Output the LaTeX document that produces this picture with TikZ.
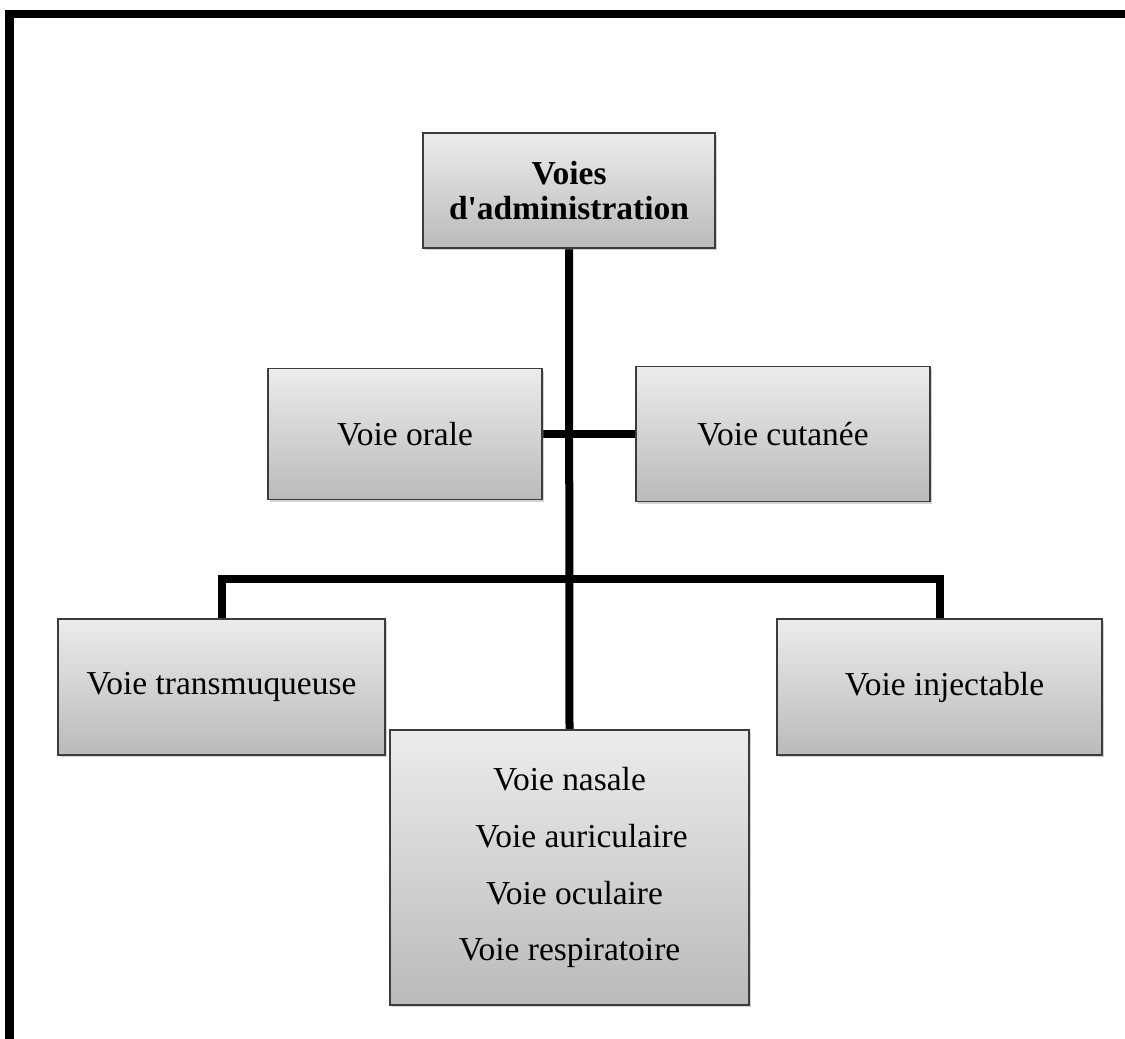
\documentclass[tikz,border=0pt]{standalone}
\usepackage{fontspec}
\setmainfont{Liberation Serif}
\usepackage{tikz}
\usetikzlibrary{shadows, backgrounds, positioning}
\definecolor{voieTop}{RGB}{236,236,236}
\definecolor{voieBottom}{RGB}{186,186,186}
\definecolor{voieEdge}{RGB}{60,60,60}

\begin{document}
\begin{tikzpicture}[x=0.025cm, y=-0.025cm,
    voie/.style={draw=voieEdge, line width=0.9pt, top color=voieTop, bottom color=voieBottom,
        inner sep=0pt, align=center, font=\fontsize{23.8}{24.9}\selectfont,
        drop shadow={opacity=0.35, shadow xshift=0.5mm, shadow yshift=-0.6mm}},
    lien/.style={line width=0.2cm}]
    \useasboundingbox (0,0) rectangle (1125,1039);
    % frame: left and top edges only
    \draw[line width=0.2cm] (9.5,1039) -- (9.5,14) -- (1125,14);
    % boxes, pixel positions of the centres
    \node[voie, minimum width=7.3cm, minimum height=2.875cm, font=\fontsize{23.8}{24.9}\selectfont\bfseries]
        (admin) at (569,190.5) {Voies\\d\textquotesingle administration};
    \node[voie, minimum width=6.85cm, minimum height=3.275cm] (orale) at (405,434) {Voie orale};
    \node[voie, minimum width=7.35cm, minimum height=3.375cm] (cutanee) at (783,434) {Voie cutan\'ee};
    \node[voie, minimum width=8.175cm, minimum height=3.4cm] (transmu) at (221.5,687) {Voie transmuqueuse};
    \node[voie, minimum width=8.125cm, minimum height=3.4cm] (inject) at (939.5,687) {\hspace*{0.25cm}Voie injectable};
    \node[voie, minimum width=8.975cm, minimum height=6.875cm, font=\fontsize{23.8}{40.5}\selectfont]
        (nasal) at (569.5,867.5) {Voie nasale\\ \hspace*{0.6cm}Voie auriculaire\\ \hspace*{0.25cm}Voie oculaire\\ Voie respiratoire};
    % connectors
    \coordinate (bus) at (569.5,579);
    \begin{scope}[on background layer]
        \draw[lien] (admin.south) -- (nasal.north);
        \draw[lien] (orale.east) -- (cutanee.west);
        \draw[lien] (transmu.north) |- (bus) -| (inject.north);
    \end{scope}
\end{tikzpicture}
\end{document}
